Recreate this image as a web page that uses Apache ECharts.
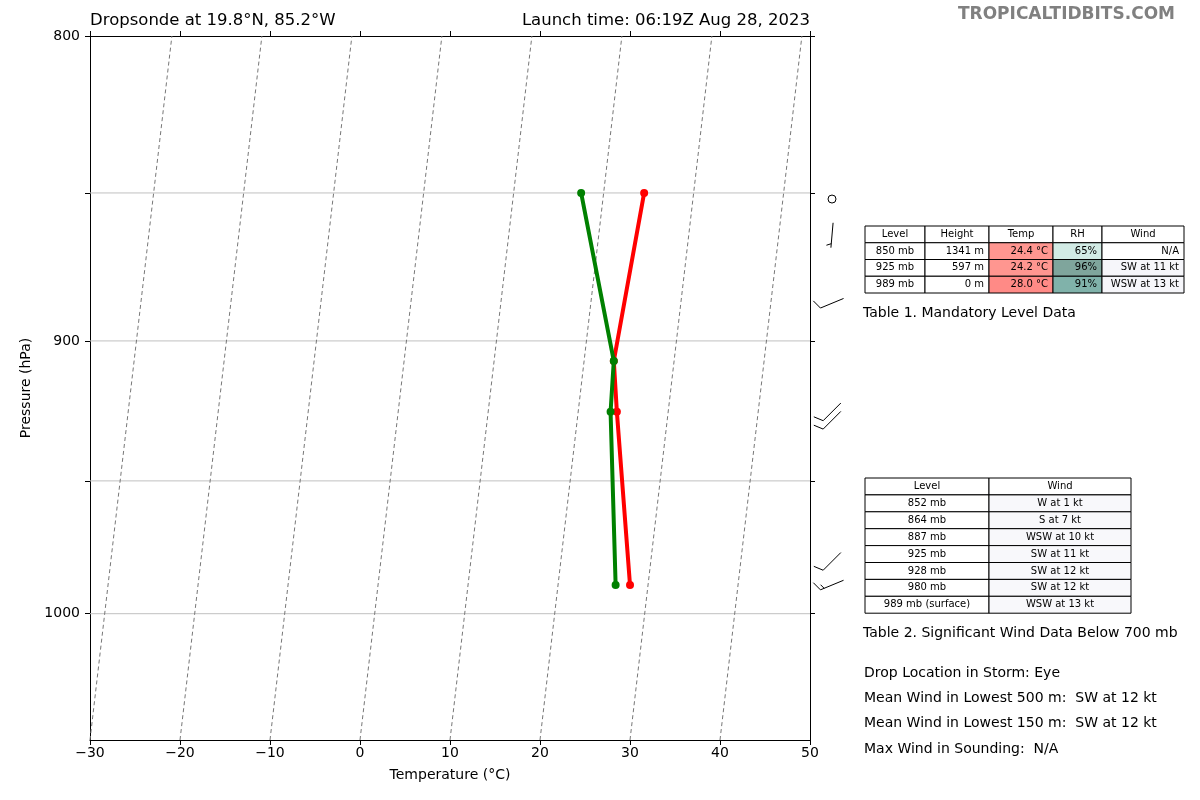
<!DOCTYPE html>
<html><head><meta charset="utf-8">
<script src="https://cdn.jsdelivr.net/npm/echarts@6/dist/echarts.min.js"></script>
<style>html,body{margin:0;padding:0;background:#fff}#c{width:1200px;height:800px}</style>
</head><body><div id="c"></div>
<script>
// ---- data ----
const profP = [850, 907, 925, 989];
const tempC = [24.5, 23.3, 24.3, 28.0];
const dewC = [17.5, 23.3, 23.6, 26.4];
const isoTemps = [-30, -20, -10, 0, 10, 20, 30, 40];
const windP = [852, 864, 887, 925, 928, 980, 989];
const windDir = [270, 185, 247.5, 225, 225, 225, 247.5];
const windKt = [1, 7, 10, 11, 12, 12, 13];
const yTickP = [800, 850, 900, 950, 1000];
const yLabelP = [800, 900, 1000];
const gridP = [850, 900, 950, 1000];
const t1Head = ['Level', 'Height', 'Temp', 'RH', 'Wind'];
const t1Rows = [
  ['850 mb', '1341 m', '24.4 °C', '65%', 'N/A'],
  ['925 mb', '597 m', '24.2 °C', '96%', 'SW at 11 kt'],
  ['989 mb', '0 m', '28.0 °C', '91%', 'WSW at 13 kt']];
const t1TempColor = ['#ff9690', '#ff9690', '#ff8a86'];
const t1RhColor = ['#d2ebe5', '#7fa59c', '#80b2aa'];
const t1WindColor = ['#ffffff', '#f6f6fa', '#f6f6fa'];
const t2Head = ['Level', 'Wind'];
const t2Rows = [['852 mb', 'W at 1 kt'], ['864 mb', 'S at 7 kt'], ['887 mb', 'WSW at 10 kt'],
  ['925 mb', 'SW at 11 kt'], ['928 mb', 'SW at 12 kt'], ['980 mb', 'SW at 12 kt'], ['989 mb (surface)', 'WSW at 13 kt']];
const infoLines = ['Drop Location in Storm: Eye', 'Mean Wind in Lowest 500 m:  SW at 12 kt',
  'Mean Wind in Lowest 150 m:  SW at 12 kt', 'Max Wind in Sounding:  N/A'];

const PBOT = 1050, PTOP = 800;
const L = p => Math.log10(p);
const K = 9.1 / (L(PBOT) - L(PTOP));
const skew = (t, p) => t + K * (L(PBOT) - L(p));
const F = 'DejaVu Sans';

const series = [];
gridP.forEach(p => series.push({
  type: 'line', data: [[-30, L(p)], [50, L(p)]], symbol: 'none', silent: true,
  lineStyle: { color: '#c0c0c0', width: 1 }, z: 1
}));
isoTemps.forEach(t => series.push({
  type: 'line', data: [[t, L(PBOT)], [t + 9.1, L(PTOP)]], symbol: 'none', silent: true, clip: true,
  lineStyle: { color: '#777', width: 1, type: [4, 3] }, z: 2
}));
series.push({ type: 'line', data: profP.map((p, i) => [skew(tempC[i], p), L(p)]), symbol: 'circle', symbolSize: 8,
  itemStyle: { color: '#ff0000' }, lineStyle: { color: '#ff0000', width: 4 }, z: 5 });
series.push({ type: 'line', data: profP.map((p, i) => [skew(dewC[i], p), L(p)]), symbol: 'circle', symbolSize: 8,
  itemStyle: { color: '#008000' }, lineStyle: { color: '#008000', width: 4 }, z: 6 });
series.push({
  type: 'custom', xAxisIndex: 2, yAxisIndex: 2,
  data: windP.map((p, i) => [0.44, L(p), windDir[i], windKt[i]]),
  renderItem: (params, api) => {
    const c = api.coord([api.value(0), api.value(1)]);
    const d = api.value(2) * Math.PI / 180, s = Math.round(api.value(3) / 5) * 5;
    const st = { stroke: '#000', lineWidth: 1, fill: null };
    if (s === 0) return { type: 'circle', shape: { cx: c[0], cy: c[1], r: 4 }, style: st };
    const ux = Math.sin(d), uy = -Math.cos(d), vx = -uy, vy = ux, Ls = 25;
    const tail = [c[0] + ux * Ls / 2, c[1] + uy * Ls / 2], tip = [c[0] - ux * Ls / 2, c[1] - uy * Ls / 2];
    const ch = [{ type: 'line', shape: { x1: tip[0], y1: tip[1], x2: tail[0], y2: tail[1] }, style: st }];
    let full = Math.floor(s / 10), half = (s % 10) ? 1 : 0, pos = 0;
    const add = (len) => {
      const bx = tail[0] - ux * pos, by = tail[1] - uy * pos;
      ch.push({ type: 'line', shape: { x1: bx, y1: by, x2: bx + vx * len * 0.85 + ux * len * 0.35, y2: by + vy * len * 0.85 + uy * len * 0.35 }, style: st });
      pos += 4;
    };
    for (let k = 0; k < full; k++) add(11);
    if (half) { if (full === 0) pos = 4; add(5.5); }
    return { type: 'group', children: ch };
  }
});

// tables
const g = [];
function table(x0, y0, colX, rowH, rows, fills, aligns, fs) {
  rows.forEach((r, ri) => {
    r.forEach((txt, ci) => {
      const x1 = colX[ci], x2 = colX[ci + 1], y = y0 + ri * rowH;
      g.push({ type: 'rect', shape: { x: x1, y: y, width: x2 - x1, height: rowH },
        style: { fill: fills[ri][ci], stroke: '#000', lineWidth: 1 } });
      const al = ri === 0 ? 'center' : aligns[ci];
      const tx = al === 'center' ? (x1 + x2) / 2 : x2 - 5;
      g.push({ type: 'text', x: tx, y: y + rowH / 2, style: { text: txt, font: fs + 'px ' + F, fill: '#000', align: al, verticalAlign: 'middle' }, z: 10 });
    });
  });
}
const t1c = [865, 925, 989, 1053, 1102, 1184];
const f1 = [['#fff', '#fff', '#fff', '#fff', '#fff']].concat(t1Rows.map((r, i) => ['#fff', '#fff', t1TempColor[i], t1RhColor[i], t1WindColor[i]]));
table(865, 226, t1c, 16.75, [t1Head].concat(t1Rows), f1, ['center', 'right', 'right', 'right', 'right'], 10);
const t2c = [865, 989, 1131];
const f2 = [['#fff', '#fff']].concat(t2Rows.map(() => ['#fff', '#f8f8fb']));
table(865, 478, t2c, 16.9, [t2Head].concat(t2Rows), f2, ['center', 'center'], 10);
const T = (x, y, t, extra) => g.push(Object.assign({ type: 'text', x: x, y: y, style: Object.assign({ text: t, font: '14px ' + F, fill: '#000', verticalAlign: 'middle' }, extra || {}) }));
T(863, 313, 'Table 1. Mandatory Level Data');
T(863, 633, 'Table 2. Significant Wind Data Below 700 mb');
infoLines.forEach((t, i) => T(864, 673 + i * 25.3, t));
T(90, 21, 'Dropsonde at 19.8°N, 85.2°W', { font: '16.5px ' + F });
T(810, 21, 'Launch time: 06:19Z Aug 28, 2023', { font: '16.5px ' + F, align: 'right' });
T(1175, 15, 'TROPICALTIDBITS.COM', { font: 'bold 17px ' + F, align: 'right', fill: '#808080' });

const axLab = { fontFamily: F, fontSize: 14, color: '#000' };
const ln = { show: true, onZero: false, lineStyle: { color: '#000', width: 1 } };
const tk = { show: true, length: 5, lineStyle: { color: '#000' } };
const minus = v => String(v).replace('-', '\u2212');
const option = {
  animation: false,
  grid: [{ left: 90, top: 36, width: 720, height: 704, show: false },
         { left: 810, top: 36, width: 50, height: 704, show: false }],
  xAxis: [
    { gridIndex: 0, type: 'value', min: -30, max: 50, interval: 10, position: 'bottom', axisLine: ln, axisTick: tk,
      splitLine: { show: false }, axisLabel: Object.assign({ margin: 6, formatter: minus }, axLab),
      name: 'Temperature (°C)', nameLocation: 'middle', nameGap: 28, nameTextStyle: axLab },
    { gridIndex: 0, type: 'value', min: -30, max: 50, interval: 10, position: 'top', axisLine: ln, axisTick: tk,
      splitLine: { show: false }, axisLabel: { show: false } },
    { gridIndex: 1, type: 'value', min: 0, max: 1, show: false }
  ],
  yAxis: [
    { gridIndex: 0, type: 'value', inverse: true, min: L(PTOP), max: L(PBOT), position: 'left', axisLine: ln,
      axisTick: Object.assign({ customValues: yTickP.map(L) }, tk),
      axisLabel: Object.assign({ margin: 10, customValues: yLabelP.map(L), formatter: v => String(Math.round(Math.pow(10, v))) }, axLab),
      splitLine: { show: false }, name: 'Pressure (hPa)', nameLocation: 'middle', nameGap: 52, nameTextStyle: axLab },
    { gridIndex: 0, type: 'value', inverse: true, min: L(PTOP), max: L(PBOT), position: 'right', axisLine: ln,
      axisTick: Object.assign({ customValues: yTickP.map(L) }, tk), axisLabel: { show: false }, splitLine: { show: false } },
    { gridIndex: 1, type: 'value', inverse: true, min: L(PTOP), max: L(PBOT), show: false }
  ],
  series: series,
  graphic: g
};
echarts.init(document.getElementById('c')).setOption(option);
</script></body></html>
